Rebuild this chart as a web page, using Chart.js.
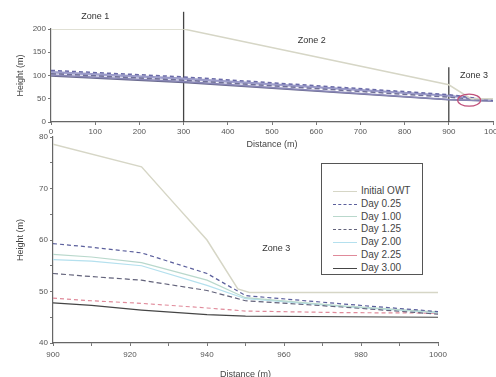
<!DOCTYPE html>
<html>
<head>
<meta charset="utf-8">
<script src="https://cdn.jsdelivr.net/npm/chart.js@4.4.1/dist/chart.umd.min.js"></script>
<style>
  body { margin:0; width:496px; height:377px; overflow:hidden; background:#fff; font-family:"Liberation Sans", Arial, sans-serif; position:relative; }
  .box { position:absolute; left:0; width:496px; }
  #legenda { position:absolute; left:321px; top:163px; width:100px; height:110px; border:1.5px solid #555; background:#fff; }
  #legenda .row { position:absolute; left:11px; height:12px; font-size:10px; color:#444; white-space:nowrap; }
  #legenda .amostra { display:inline-block; width:24px; vertical-align:middle; margin-right:4px; }
</style>
</head>
<body>
<div class="box" style="top:0;height:150px;"><canvas id="grafTopo"></canvas></div>
<div class="box" style="top:128px;height:252px;"><canvas id="grafZona3"></canvas></div>
<div id="legenda"></div>

<script>
// ======= Dados =======
const series = ['Initial OWT', 'Day 0.25', 'Day 1.00', 'Day 1.25', 'Day 2.00', 'Day 2.25', 'Day 3.00'];
const cores = ['#d6d6c6', '#5b5f9c', '#b9d8cc', '#62627a', '#b4e0ee', '#e08a9a', '#454545'];
const coresTopo = ['#d6d6c6', '#6a6aa8', '#9a9ac8', '#707098', '#a8a8d4', '#8a88b8', '#6c6c90'];
const tracos = [[], [4, 3], [], [5, 3], [], [], []];

// perfil completo (0 - 1000 m)
const distTopo = [0, 300, 900, 1000];
const distTopoInicial = [0, 300, 900, 950, 1000];
const alturaInicialTopo = [200, 200, 80, 50, 50];
const day025Topo = [111, 97, 59, 46];
const day100Topo = [108, 94, 57, 46];
const day125Topo = [104, 90, 53.5, 45.5];
const day200Topo = [106, 92, 56, 45.8];
const day225Topo = [101, 87, 48.5, 45];
const day300Topo = [99, 85, 47.8, 45];
const limitesZona = [300, 900];
const alturaLimites = [237, 118];

// zona 3 (900 - 1000 m)
const distInicial = [900, 923, 931, 940, 948, 951, 1000];
const alturaInicial = [78.6, 74.2, 67.5, 60, 50.5, 49.8, 49.8];
const distDias = [900, 910, 923, 940, 950, 975, 1000];
const day025 = [59.3, 58.6, 57.5, 53.5, 49.2, 47.6, 46.1];
const day100 = [57.2, 56.7, 55.6, 52.2, 48.8, 47.2, 46];
const day125 = [53.5, 52.9, 52.2, 50.2, 48.2, 47, 45.6];
const day200 = [56.2, 55.9, 55, 51.2, 48.6, 47.1, 45.9];
const day225 = [48.7, 48.2, 47.7, 46.8, 46.2, 45.9, 45.8];
const day300 = [47.8, 47.3, 46.4, 45.5, 45.2, 45.1, 45];

const ticksTopoX = [0, 100, 200, 300, 400, 500, 600, 700, 800, 900, 1000];
const ticksTopoY = [0, 50, 100, 150, 200];

// ======= Helpers =======
const pares = (xs, ys) => xs.map((x, i) => ({ x, y: ys[i] }));
const fonte = { family: '"Liberation Sans", Arial, sans-serif', size: 8 };
const fonteTitulo = { family: fonte.family, size: 9 };

function dataset(idx, dados, extra) {
  return Object.assign({
    label: series[idx],
    data: dados,
    borderColor: cores[idx],
    borderDash: tracos[idx],
    borderWidth: idx === 0 ? 1.5 : 1.2,
    pointRadius: 0,
    tension: 0,
    fill: false
  }, extra || {});
}

// fixa a área do gráfico
function fixaY(w) {
  return s => { s.width = w; s.paddingTop = 0; s.paddingBottom = 0; };
}
function fixaX(h) {
  return s => { s.height = h; s.paddingLeft = 0; s.paddingRight = 0; };
}

// textos das zonas e elipse (em coordenadas de dados)
const anotacoes = {
  id: 'anotacoes',
  afterDatasetsDraw(chart, args, opts) {
    const ctx = chart.ctx, x = chart.scales.x, y = chart.scales.y;
    ctx.save();
    ctx.font = '9px "Liberation Sans", Arial, sans-serif';
    ctx.fillStyle = '#333';
    ctx.textAlign = 'center';
    ctx.textBaseline = 'middle';
    (opts.textos || []).forEach(t => ctx.fillText(t.txt, x.getPixelForValue(t.x), y.getPixelForValue(t.y)));
    if (opts.elipse) {
      const e = opts.elipse;
      ctx.strokeStyle = '#c0507a';
      ctx.lineWidth = 1.2;
      ctx.beginPath();
      ctx.ellipse(x.getPixelForValue(e.x), y.getPixelForValue(e.y),
        Math.abs(x.getPixelForValue(e.x + e.rx) - x.getPixelForValue(e.x)),
        Math.abs(y.getPixelForValue(e.y + e.ry) - y.getPixelForValue(e.y)), 0, 0, Math.PI * 2);
      ctx.stroke();
    }
    ctx.restore();
  }
};

function eixo(extra) {
  return Object.assign({
    type: 'linear',
    grid: { drawOnChartArea: false, color: '#777', tickLength: 3 },
    border: { color: '#666', width: 1.2 },
    ticks: { font: fonte, color: '#555', padding: 2 }
  }, extra);
}

// ======= Gráfico de cima (perfil completo) =======
const dadosTopo = [pares(distTopoInicial, alturaInicialTopo), pares(distTopo, day025Topo), pares(distTopo, day100Topo),
  pares(distTopo, day125Topo), pares(distTopo, day200Topo), pares(distTopo, day225Topo), pares(distTopo, day300Topo)];
const dsTopo = dadosTopo.map((d, i) => dataset(i, d, { borderColor: coresTopo[i], borderWidth: 1.5 }));
limitesZona.forEach((d, i) => {
  dsTopo.push({ label: 'limite', data: [{ x: d, y: 0 }, { x: d, y: alturaLimites[i] }],
    borderColor: '#444', borderWidth: 1.3, pointRadius: 0, clip: false });
});

new Chart(document.getElementById('grafTopo'), {
  type: 'line',
  data: { datasets: dsTopo },
  options: {
    responsive: true, maintainAspectRatio: false, animation: false,
    layout: { padding: { top: 29, right: 3, left: 15, bottom: 0 } },
    plugins: {
      legend: { display: false }, tooltip: { enabled: false },
      anotacoes: {
        textos: [{ txt: 'Zone 1', x: 100, y: 226 }, { txt: 'Zone 2', x: 590, y: 176 }, { txt: 'Zone 3', x: 957, y: 101 }],
        elipse: { x: 946, y: 47, rx: 26, ry: 13 }
      }
    },
    scales: {
      x: eixo({
        min: 0, max: 1000,
        ticks: { font: fonte, color: '#555', padding: 2, callback: v => String(v) },
        afterBuildTicks: s => { s.ticks = ticksTopoX.map(v => ({ value: v })); },
        afterFit: fixaX(28),
        title: { display: true, text: 'Distance (m)', font: fonteTitulo, color: '#444', padding: 0 }
      }),
      y: eixo({
        min: 0, max: 200,
        ticks: { font: fonte, color: '#555', padding: 2, callback: v => String(v) },
        afterBuildTicks: s => { s.ticks = ticksTopoY.map(v => ({ value: v })); },
        afterFit: fixaY(36),
        title: { display: true, text: 'Height (m)', font: fonteTitulo, color: '#444', padding: 0 }
      })
    }
  },
  plugins: [anotacoes]
});

// ======= Gráfico de baixo (zona 3) =======
new Chart(document.getElementById('grafZona3'), {
  type: 'line',
  data: {
    datasets: [
      dataset(0, pares(distInicial, alturaInicial)),
      dataset(1, pares(distDias, day025)),
      dataset(2, pares(distDias, day100)),
      dataset(3, pares(distDias, day125)),
      dataset(4, pares(distDias, day200)),
      dataset(5, pares(distDias, day225), { borderDash: [4, 3] }),
      dataset(6, pares(distDias, day300))
    ]
  },
  options: {
    responsive: true, maintainAspectRatio: false, animation: false,
    layout: { padding: { top: 9, right: 58, left: 15, bottom: 0 } },
    plugins: {
      legend: { display: false }, tooltip: { enabled: false },
      anotacoes: { textos: [{ txt: 'Zone 3', x: 958, y: 58.4 }] }
    },
    scales: {
      x: eixo({
        min: 900, max: 1000,
        ticks: { stepSize: 10, font: fonte, color: '#555', padding: 4, callback: v => v % 20 === 0 ? String(v) : '' },
        afterFit: fixaX(37),
        title: { display: true, text: 'Distance (m)', font: fonteTitulo, color: '#444', padding: 0 }
      }),
      y: eixo({
        min: 40, max: 80,
        ticks: { stepSize: 5, font: fonte, color: '#555', padding: 2, callback: v => v % 10 === 0 ? String(v) : '' },
        afterFit: fixaY(38),
        title: { display: true, text: 'Height (m)', font: fonteTitulo, color: '#444', padding: 0 }
      })
    }
  },
  plugins: [anotacoes]
});

// ======= Legenda =======
const legenda = document.getElementById('legenda');
series.forEach((nome, i) => {
  const linha = document.createElement('div');
  linha.className = 'row';
  linha.style.top = (21 + i * 12.8) + 'px';
  const estilo = tracos[i].length ? 'dashed' : 'solid';
  linha.innerHTML = `<span class="amostra" style="border-top:1.5px ${estilo} ${cores[i]}"></span>${nome}`;
  legenda.appendChild(linha);
});
</script>
</body>
</html>
